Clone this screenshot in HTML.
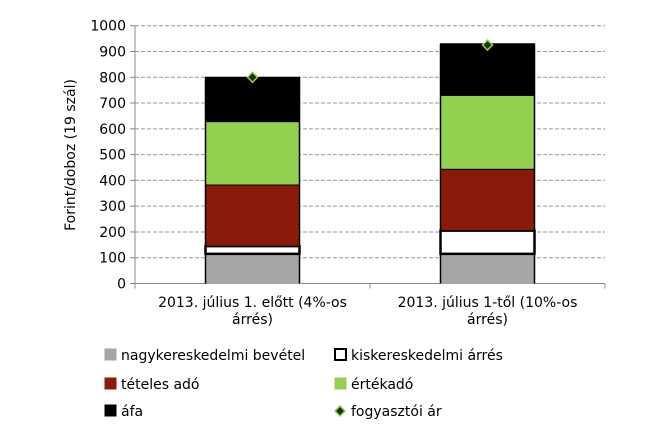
<!DOCTYPE html>
<html><head><meta charset="utf-8"><style>body{margin:0;background:#fff}svg{display:block;font-family:"DejaVu Sans","Liberation Sans",sans-serif}</style></head>
<body>
<svg id="c" width="666" height="444"></svg>
<script>
const categories=["2013. július 1. előtt (4%-os|árrés)","2013. július 1-től (10%-os|árrés)"];
const nagyker=[115,115];
const kisker=[30,90];
const teteles=[237,238];
const ertekado=[246,287];
const afa=[172,200];
const fogyasztoi=[800,925];
const yTicks=[0,100,200,300,400,500,600,700,800,900,1000];
const ns="http://www.w3.org/2000/svg";
const svg=document.getElementById('c');
function mk(t,a,p){const e=document.createElementNS(ns,t);for(const k in a)e.setAttribute(k,a[k]);(p||svg).appendChild(e);return e;}
const x0=135,x1=605,yb=283.5,yt=25.7;
const y=v=>yb-(v-0)/(1000)*(yb-yt);
const bw=94, slot=(x1-x0)/categories.length;
const cx=i=>x0+slot*(i+0.5);
yTicks.forEach(t=>{
 if(t>0){const g=mk('line',{x1:x0,x2:x1,y1:y(t),y2:y(t),stroke:'#9a9a9a','stroke-dasharray':'4,2','stroke-width':1});}
 const tk=mk('line',{x1:x0-5,x2:x0,y1:y(t),y2:y(t),stroke:'#888'});
 const lb=mk('text',{x:x0-9,y:y(t)+5,'text-anchor':'end','font-size':14,fill:'#000'});lb.textContent=t;
 
});
mk('line',{x1:x0,x2:x0,y1:yt,y2:yb,stroke:'#888'});
mk('line',{x1:x0,x2:x1,y1:yb,y2:yb,stroke:'#888'});
[x0,x0+slot,x1].forEach(xx=>mk('line',{x1:xx,x2:xx,y1:yb,y2:yb+5,stroke:'#888'}));
const yl=mk('text',{transform:'translate(75,155) rotate(-90)','text-anchor':'middle','font-size':14});yl.textContent='Forint/doboz (19 szál)';

const series=[[nagyker,'#a6a6a6','#a6a6a6',1,'bar-nagykereskedelmi'],[kisker,'#fff','#000',2.5,'bar-kiskereskedelmi'],[teteles,'#8b1a0b','#000',1,'bar-teteles-ado'],[ertekado,'#92d050','#000',1,'bar-ertekado'],[afa,'#000','#000',1,'bar-afa']];
categories.forEach((c,i)=>{
 let base=0;const L=cx(i)-bw/2;
 series.forEach(s=>{const v=s[0][i];const r=mk('rect',{x:L,y:y(base+v),width:bw,height:y(base)-y(base+v),fill:s[1],stroke:s[2],'stroke-width':s[3]});
  base+=v;});
 mk('line',{x1:L,x2:L,y1:y(0),y2:y(base),stroke:'#000','stroke-width':1.5});
 mk('line',{x1:L+bw,x2:L+bw,y1:y(0),y2:y(base),stroke:'#000','stroke-width':1.5});
 const d=mk('path',{d:`M${cx(i)},${y(fogyasztoi[i])-5}l5,5l-5,5l-5,-5z`,fill:'#1a3300',stroke:'#92d050','stroke-width':1.5});
 
 c.split('|').forEach((ln,j)=>{const t=mk('text',{x:cx(i),y:307+j*17,'text-anchor':'middle','font-size':14});t.textContent=ln;
  });
});
const leg=[['nagykereskedelmi bevétel',105,355,'#a6a6a6','#a6a6a6'],['kiskereskedelmi árrés',335,355,'#fff','#000'],['tételes adó',105,384,'#8b1a0b','#8b1a0b'],['értékadó',335,384,'#92d050','#92d050'],['áfa',105,411,'#000','#000'],['fogyasztói ár',335,411,null]];
leg.forEach(l=>{
 let m;
 if(l[3])m=mk('rect',{x:l[1],y:l[2]-6,width:11,height:11,fill:l[3],stroke:l[4],'stroke-width':l[4]=='#000'&&l[3]=='#fff'?2:1});
 else m=mk('path',{d:`M${l[1]+5},${l[2]-5}l5,5l-5,5l-5,-5z`,fill:'#1a3300',stroke:'#92d050','stroke-width':1.5});
 
 const t=mk('text',{x:l[1]+16,y:l[2]+5,'font-size':14});t.textContent=l[0];
 
});
</script>
</body></html>
